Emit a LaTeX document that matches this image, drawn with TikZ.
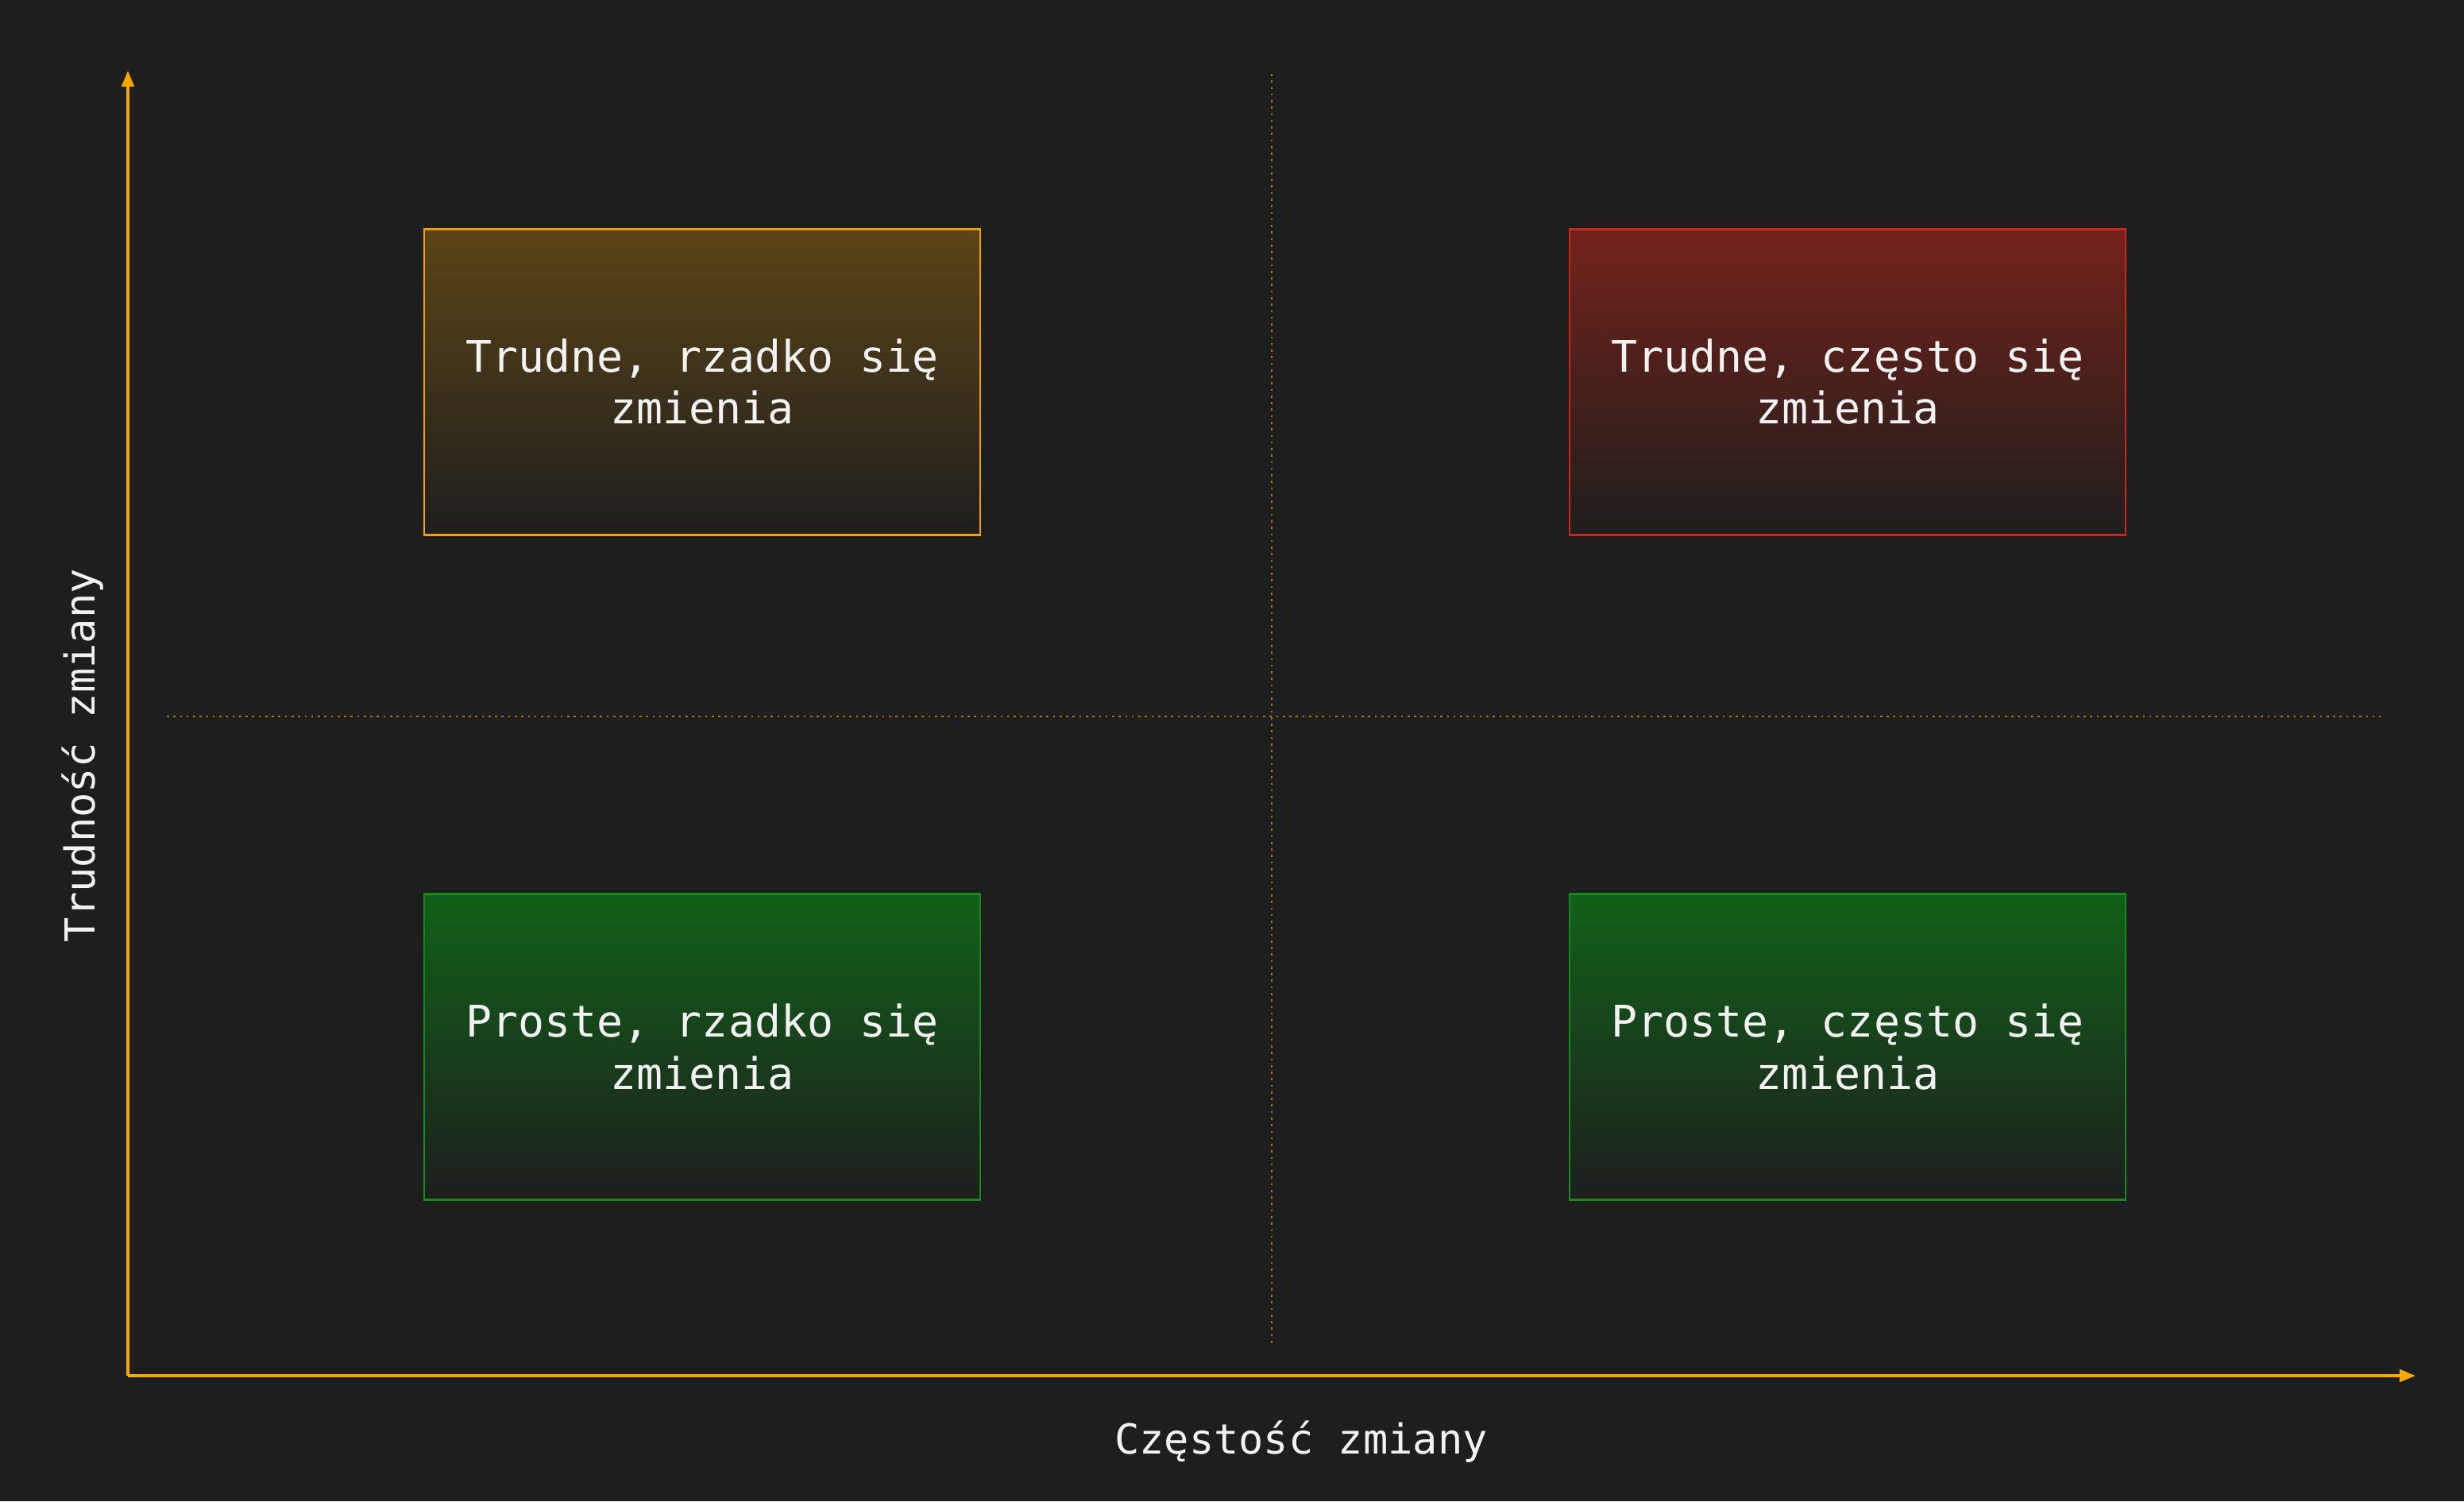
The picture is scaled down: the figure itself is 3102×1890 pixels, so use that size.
\documentclass[tikz,border=0pt]{standalone}
\usepackage{fontspec}
\usetikzlibrary{arrows.meta}
\newfontfamily\monofont{DejaVu Sans Mono}
\definecolor{bg}{HTML}{1E1E1E}
\definecolor{axisc}{HTML}{F5A800}
\definecolor{orangeb}{HTML}{F0A000}
\definecolor{orangetop}{HTML}{5C4517}
\definecolor{redb}{HTML}{C8281C}
\definecolor{redtop}{HTML}{74221A}
\definecolor{greenb}{HTML}{178A1E}
\definecolor{greentop}{HTML}{116119}
\definecolor{txt}{HTML}{F2F2F2}
\tikzset{
  quad/.style={rectangle, minimum width=7.0cm, minimum height=3.85cm, inner sep=0pt,
    line width=0.65pt, align=center, text=txt,
    font=\monofont\fontsize{15.6pt}{18.5pt}\selectfont},
  qorange/.style={quad, draw=orangeb, top color=orangetop, bottom color=bg},
  qred/.style={quad, draw=redb, top color=redtop, bottom color=bg},
  qgreen/.style={quad, draw=greenb, top color=greentop, bottom color=bg},
  axisline/.style={draw=axisc, line width=1.15pt, -{Triangle[length=5.7pt,width=4.4pt]}},
  guide/.style={draw=axisc, draw opacity=0.65, line width=0.75pt, dash pattern=on 0.75pt off 1.6pt},
  axislabel/.style={text=txt, inner sep=0pt, font=\monofont\fontsize{14.8pt}{17pt}\selectfont}
}
\begin{document}
\begin{tikzpicture}[x=0.01cm, y=-0.01cm]
\fill[bg] (0,0) rectangle (3102,1890);
\useasboundingbox (0,0) rectangle (3102,1890);
% guides
\coordinate (vtop) at (1601,93);
\coordinate (vbot) at (1601,1695);
\coordinate (hleft) at (210,902);
\coordinate (hright) at (2997,902);
\draw[guide] (vtop) -- (vbot);
\draw[guide] (hleft) -- (hright);
% axes
\coordinate (O) at (161,1732);
\coordinate (xend) at (3041,1732);
\coordinate (yend) at (161,89);
\draw[axisline] (O) -- (xend);
\draw[axisline] (O) -- (yend);
% boxes
\node[qorange] (tl) at (884,481) {Trudne, rzadko się\\zmienia};
\node[qred] (tr) at (2326,481) {Trudne, często się\\zmienia};
\node[qgreen] (bl) at (884,1318) {Proste, rzadko się\\zmienia};
\node[qgreen] (br) at (2326,1318) {Proste, często się\\zmienia};
% axis labels
\node[axislabel, anchor=base] (xl) at (1638,1830) {Częstość zmiany};
\node[axislabel, anchor=base, rotate=90] (yl) at (120,951) {Trudność zmiany};
\end{tikzpicture}
\end{document}
